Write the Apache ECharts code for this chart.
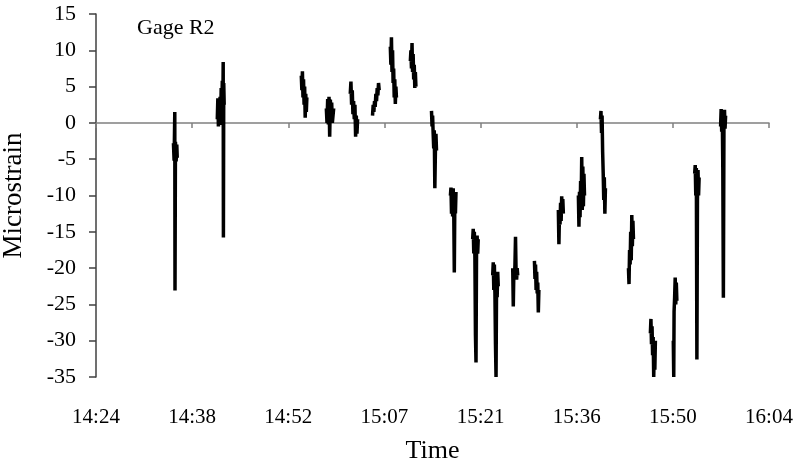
<!DOCTYPE html>
<html>
<head>
<meta charset="utf-8">
<script src="https://cdn.jsdelivr.net/npm/echarts@6/dist/echarts.min.js"></script>
<style>
html,body{margin:0;padding:0;background:#fff;}
#chart{width:799px;height:464px;}
</style>
</head>
<body>
<div id="chart"></div>
<script>
// Time ticks (Excel day fractions 0.60 .. 0.67, step 0.01)
const timeTickLabels = ['14:24','14:38','14:52','15:07','15:21','15:36','15:50','16:04'];
const strainTicks = [-35,-30,-25,-20,-15,-10,-5,0,5,10,15];

// Sample times; null marks a gap between recording bursts
const sampleTimes = [
 '14:35:36','14:35:42','14:35:48','14:35:50','14:35:54','14:36:00','14:36:06','14:36:10', null,
 '14:42:10','14:42:15','14:42:20','14:42:25','14:42:30','14:42:35','14:42:40','14:42:45','14:42:50','14:42:55','14:43:00','14:43:03','14:43:05','14:43:08','14:43:12', null,
 '14:54:45','14:54:50','14:54:55','14:55:00','14:55:05','14:55:10','14:55:15','14:55:20','14:55:25','14:55:30','14:55:35', null,
 '14:58:30','14:58:36','14:58:42','14:58:48','14:58:54','14:59:00','14:59:06','14:59:12','14:59:18','14:59:24','14:59:36', null,
 '15:02:05','15:02:11','15:02:17','15:02:23','15:02:29','15:02:35','15:02:41','15:02:47','15:02:53','15:02:59','15:03:05','15:03:11', null,
 '15:05:25','15:05:31','15:05:37','15:05:43','15:05:49','15:05:55','15:06:01','15:06:07','15:06:13','15:06:19','15:06:25', null,
 '15:08:05','15:08:10','15:08:15','15:08:20','15:08:25','15:08:30','15:08:35','15:08:40','15:08:45','15:08:50','15:08:55','15:09:00', null,
 '15:11:05','15:11:10','15:11:15','15:11:20','15:11:25','15:11:30','15:11:35','15:11:40','15:11:45','15:11:50','15:11:55', null,
 '15:14:15','15:14:20','15:14:25','15:14:30','15:14:35','15:14:40','15:14:45','15:14:50','15:14:55','15:15:00', null,
 '15:17:05','15:17:10','15:17:15','15:17:20','15:17:25','15:17:30','15:17:35','15:17:40','15:17:45','15:17:50','15:17:55', null,
 '15:20:25','15:20:30','15:20:35','15:20:40','15:20:45','15:20:50','15:20:55','15:21:00','15:21:05','15:21:10','15:21:15', null,
 '15:23:25','15:23:30','15:23:35','15:23:40','15:23:45','15:23:50','15:23:55','15:24:00','15:24:05','15:24:10','15:24:15', null,
 '15:26:25','15:26:30','15:26:35','15:26:40','15:26:45','15:26:50','15:26:55','15:27:00','15:27:05','15:27:10', null,
 '15:29:40','15:29:45','15:29:50','15:29:55','15:30:00','15:30:05','15:30:10','15:30:15','15:30:20', null,
 '15:33:15','15:33:20','15:33:25','15:33:30','15:33:35','15:33:40','15:33:45','15:33:50','15:33:55','15:34:00', null,
 '15:36:15','15:36:20','15:36:25','15:36:30','15:36:35','15:36:40','15:36:45','15:36:50','15:36:55','15:37:00','15:37:05','15:37:10', null,
 '15:39:33','15:39:38','15:39:43','15:39:48','15:39:53','15:39:58','15:40:03','15:40:08','15:40:13','15:40:18', null,
 '15:43:45','15:43:50','15:43:55','15:44:00','15:44:05','15:44:10','15:44:15','15:44:20','15:44:25','15:44:30', null,
 '15:47:02','15:47:07','15:47:12','15:47:17','15:47:22','15:47:27','15:47:32','15:47:37','15:47:42','15:47:47', null,
 '15:50:28','15:50:32','15:50:35','15:50:40','15:50:45','15:50:50','15:50:55','15:51:00', null,
 '15:53:40','15:53:45','15:53:50','15:53:55','15:54:00','15:54:05','15:54:10','15:54:15','15:54:20', null,
 '15:57:33','15:57:38','15:57:43','15:57:48','15:57:53','15:57:58','15:58:03','15:58:08','15:58:13','15:58:18'
];

// Microstrain readings, aligned with sampleTimes
const microstrain = [
 -2.8,-5.2,1.5,-23.1,-2.6,-5.3,-3.0,-4.8, null,
 0.5,3.4,-0.5,3.0,0.0,3.6,-0.3,4.8,1.0,5.8,2.0,8.4,-15.8,5.5,2.5, null,
 6.5,4.5,7.1,3.5,6.0,2.5,5.0,0.7,4.0,1.5,3.5, null,
 2.0,0.0,3.3,-0.2,3.6,-1.9,3.2,0.5,2.8,0.0,2.0, null,
 4.0,5.7,2.5,4.5,1.2,3.0,0.5,2.5,-1.9,1.0,-1.5,0.5, null,
 1.0,2.5,1.5,3.0,2.2,4.0,3.0,4.8,3.8,5.5,4.5, null,
 10.5,8.0,11.8,7.0,10.0,5.5,7.5,3.5,6.0,2.6,5.0,3.5, null,
 8.5,10.0,7.5,11.0,7.0,9.5,6.0,8.0,4.8,7.0,5.0, null,
 1.65,-0.5,1.0,-1.5,-3.5,-1.0,-9.0,-4.0,-1.5,-3.8, null,
 -10.0,-8.9,-12.5,-9.2,-12.9,-9.0,-12.0,-20.6,-10.0,-12.5,-9.5, null,
 -16.0,-14.6,-18.0,-15.0,-18.4,-29.2,-33.0,-17.0,-15.5,-18.0,-16.0, null,
 -21.0,-19.2,-23.0,-19.5,-23.4,-30.5,-35.0,-21.5,-24.0,-20.5,-22.5, null,
 -20.0,-25.3,-20.5,-21.5,-19.5,-15.7,-20.5,-21.6,-20.0,-21.0, null,
 -19.0,-21.5,-19.5,-23.0,-20.5,-23.5,-22.0,-26.1,-23.0, null,
 -12.0,-16.7,-12.5,-14.0,-11.0,-13.5,-10.1,-12.0,-10.5,-12.5, null,
 -10.0,-14.3,-9.5,-13.0,-8.0,-11.0,-4.7,-12.0,-6.0,-11.5,-7.0,-10.0, null,
 0.5,1.65,-1.4,1.0,-4.0,-6.9,-10.6,-7.5,-12.5,-9.0, null,
 -20.0,-22.2,-17.5,-19.5,-15.0,-18.9,-12.7,-17.0,-13.5,-16.0, null,
 -29.0,-27.0,-30.5,-28.0,-32.0,-29.5,-35.0,-31.0,-34.0,-30.0, null,
 -30.0,-35.0,-26.0,-24.0,-21.3,-25.0,-22.0,-24.5, null,
 -7.0,-5.8,-10.0,-6.2,-32.6,-10.6,-6.5,-10.0,-7.5, null,
 -0.5,1.9,-1.2,1.5,-6.5,-24.1,-1.0,1.8,-0.8,1.0
];

function toDay(t){
  if(t===null) return null;
  const p = t.split(':').map(Number);
  return (p[0]*3600 + p[1]*60 + p[2]) / 86400;
}

const seriesData = sampleTimes.map(function(t,i){
  if(t===null || microstrain[i]===null) return [null, null];
  return [toDay(t), microstrain[i]];
});

const FONT = '"Liberation Serif", "Times New Roman", serif';
const X_MIN = 0.60, X_MAX = 0.67, X_STEP = 0.01;

function timeLabel(v){
  const idx = Math.round((v - X_MIN) / X_STEP);
  return timeTickLabels[idx] !== undefined ? timeTickLabels[idx] : '';
}

const chart = echarts.init(document.getElementById('chart'), null, {renderer:'canvas'});
chart.setOption({
  animation:false,
  backgroundColor:'#ffffff',
  title:{
    text:'Gage R2', left:132, top:12,
    textStyle:{fontFamily:FONT, fontSize:22, fontWeight:'normal', color:'#000'}
  },
  grid:{left:96, right:30, top:14, bottom:87, containLabel:false, outerBoundsMode:'none'},
  xAxis:[{
    type:'value', min:X_MIN, max:X_MAX, interval:X_STEP,
    position:'bottom',
    axisLine:{show:true, onZero:true, lineStyle:{color:'#808080', width:1.5}},
    axisTick:{show:true, inside:false, length:5, lineStyle:{color:'#808080', width:1.5}},
    axisLabel:{show:false},
    splitLine:{show:false}
  },{
    type:'value', min:X_MIN, max:X_MAX, interval:X_STEP,
    position:'bottom',
    axisLine:{show:false, onZero:false},
    axisTick:{show:false},
    axisLabel:{show:true, margin:30, formatter:timeLabel,
      fontFamily:FONT, fontSize:21, color:'#000'},
    splitLine:{show:false},
    name:'Time', nameLocation:'middle', nameGap:61,
    nameTextStyle:{fontFamily:FONT, fontSize:26, color:'#000'}
  }],
  yAxis:{
    type:'value', min:-35, max:15, interval:5,
    axisLine:{show:true, onZero:false, lineStyle:{color:'#404040', width:1.5}},
    axisTick:{show:true, inside:false, length:7, lineStyle:{color:'#404040', width:1.5}},
    axisLabel:{margin:20, fontFamily:FONT, fontSize:22, color:'#000',
      formatter:function(v){ return strainTicks.indexOf(v) >= 0 ? String(v) : ''; }},
    splitLine:{show:false},
    name:'Microstrain', nameLocation:'middle', nameRotate:90, nameGap:69,
    nameTextStyle:{fontFamily:FONT, fontSize:27, color:'#000'}
  },
  series:[{
    type:'line', xAxisIndex:0, yAxisIndex:0,
    data:seriesData,
    showSymbol:false, connectNulls:false,
    lineStyle:{color:'#000', width:3.5},
    clip:true
  }]
});
</script>
</body>
</html>
